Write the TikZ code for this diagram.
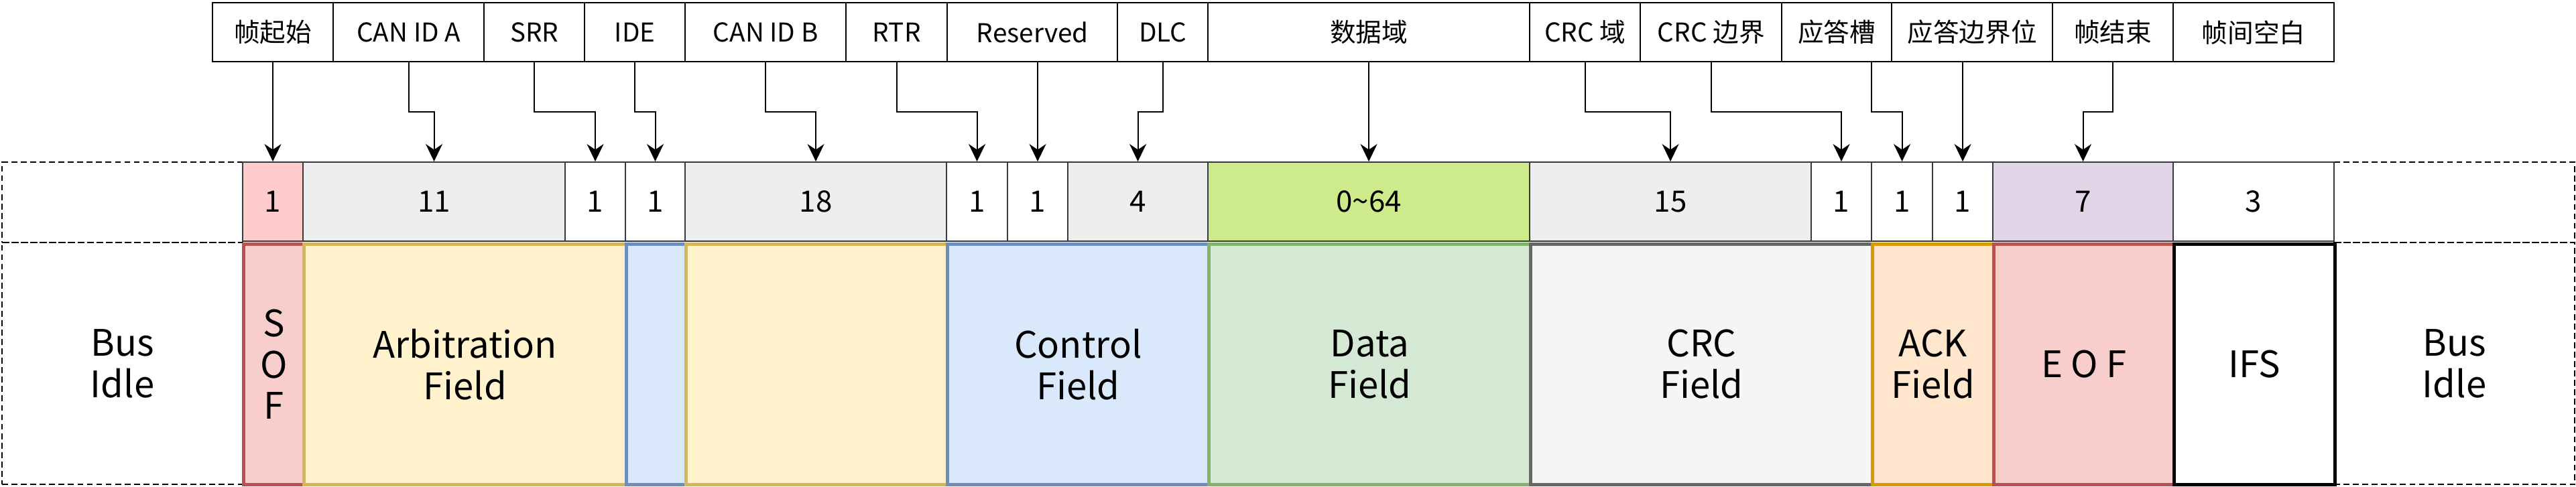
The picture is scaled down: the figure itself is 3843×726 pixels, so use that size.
\documentclass[tikz,border=0pt]{standalone}
\usepackage{fontspec}
\setmainfont{Noto Sans CJK SC}
\usetikzlibrary{arrows.meta}
\usetikzlibrary{calc}
\definecolor{bitline}{HTML}{36393D}
\definecolor{sofbit}{HTML}{FFCCCC}
\definecolor{graybit}{HTML}{EEEEEE}
\definecolor{databit}{HTML}{CDEB8B}
\definecolor{eofbit}{HTML}{E1D5E7}
\definecolor{redfill}{HTML}{F8CECC}
\definecolor{redline}{HTML}{B85450}
\definecolor{yelfill}{HTML}{FFF2CC}
\definecolor{yelline}{HTML}{D6B656}
\definecolor{bluefill}{HTML}{DAE8FC}
\definecolor{blueline}{HTML}{6C8EBF}
\definecolor{grnfill}{HTML}{D5E8D4}
\definecolor{grnline}{HTML}{82B366}
\definecolor{gryfill}{HTML}{F5F5F5}
\definecolor{gryline}{HTML}{666666}
\definecolor{orgfill}{HTML}{FFE6CC}
\definecolor{orgline}{HTML}{D79B00}
\tikzset{
  lbl/.style={draw, line width=0.7pt, anchor=north west, inner sep=0pt, minimum height=8.8mm, font=\fontsize{11}{13}\selectfont},
  bit/.style={draw=bitline, line width=0.6pt, anchor=north west, inner sep=0pt, minimum height=11.8mm, font=\fontsize{12.5}{15}\selectfont},
  field/.style={line width=1.3pt, anchor=north west, inner sep=0pt, minimum height=35.9mm, align=center, font=\fontsize{15.5}{17.6}\selectfont},
  idle/.style={draw, dash pattern=on 2.5pt off 1.5pt, line width=0.6pt, anchor=north west, inner sep=0pt, minimum width=35.9mm, align=center, font=\fontsize{15.5}{17.6}\selectfont},
  arr/.style={-{Stealth[length=2.6mm,width=2.5mm]}, line width=0.6pt},
  elbow/.style={to path={|- ($(\tikztostart)!.5!(\tikztotarget)$) -| (\tikztotarget)}}
}

\begin{document}
\begin{tikzpicture}[x=0.1mm, y=-0.1mm]
  \useasboundingbox (0,0) rectangle (3843,726);
  \node[idle, minimum height=12mm] (itl) at (2,241) {};
  \node[idle, minimum height=36.1mm] (ibl) at (2,361) {Bus\\Idle};
  \node[idle, minimum height=12mm] (itr) at (3481,241) {};
  \node[idle, minimum height=36.1mm] (ibr) at (3481,361) {Bus\\Idle};
  \foreach \xa/\xb/\nm/\txt in {316/496/lsof/帧起始, 496/721/lida/CAN ID A, 721/871/lsrr/SRR, 871/1021/lide/IDE,
      1021/1261/lidb/CAN ID B, 1261/1412/lrtr/RTR, 1412/1666/lres/Reserved, 1666/1801/ldlc/DLC,
      1801/2281/ldata/数据域, 2281/2446/lcrc/CRC 域, 2446/2657/lcrcd/CRC 边界, 2657/2821/lslot/应答槽,
      2821/3061/lackd/应答边界位, 3061/3241/leof/帧结束, 3241/3481/lifs/帧间空白}
    \node[lbl, minimum width={(\xb-\xa)*0.1mm}] (\nm) at (\xa,3) {\txt};
  \foreach \xa/\xb/\nm/\txt/\fc in {361/451/bsof/1/sofbit, 451/842/bida/11/graybit, 842/932/bsrr/1/white,
      932/1021/bide/1/white, 1021/1411/bidb/18/graybit, 1411/1502/brtr/1/white, 1502/1592/bres/1/white,
      1592/1801/bdlc/4/graybit, 1801/2281/bdata/0\textasciitilde64/databit, 2281/2701/bcrc/15/graybit,
      2701/2791/bcrcd/1/white, 2791/2882/bslot/1/white, 2882/2972/backd/1/white, 2972/3241/beof/7/eofbit,
      3241/3481/bifs/3/white}
    \node[bit, fill=\fc, minimum width={(\xb-\xa)*0.1mm}] (\nm) at (\xa,241) {\txt};
  \foreach \xa/\xb/\nm/\txt/\fc/\dc in {361/451/fsof/S\\O\\F/redfill/redline, 451/932/farb/Arbitration\\Field/yelfill/yelline,
      932/1021/fide//bluefill/blueline, 1021/1411/fidb//yelfill/yelline, 1411/1801/fctl/Control\\Field/bluefill/blueline,
      1801/2281/fdata/Data\\Field/grnfill/grnline, 2281/2791/fcrc/CRC\\Field/gryfill/gryline,
      2791/2972/fack/ACK\\Field/orgfill/orgline, 2972/3241/feof/E O F/redfill/redline, 3241/3481/fifs/IFS/white/black}
    \node[field, fill=\fc, draw=\dc, minimum width={(\xb-\xa)*0.1mm}] (\nm) at (\xa,362) {\txt};
  \foreach \a/\b in {lsof/bsof, lida/bida, lsrr/bsrr, lide/bide, lidb/bidb, lrtr/brtr, ldlc/bdlc,
      ldata/bdata, lcrc/bcrc, lcrcd/bcrcd, leof/beof}
    \draw[arr] (\a.south) to[elbow] (\b.north);
  \coordinate (slotout) at ([xshift=5.2mm]lslot.south);
  \draw[arr] (slotout) to[elbow] (bslot.north);
  \draw[arr] (lres.south -| bres.north) -- (bres.north);
  \draw[arr] (lackd.south -| backd.north) -- (backd.north);
\end{tikzpicture}
\end{document}
